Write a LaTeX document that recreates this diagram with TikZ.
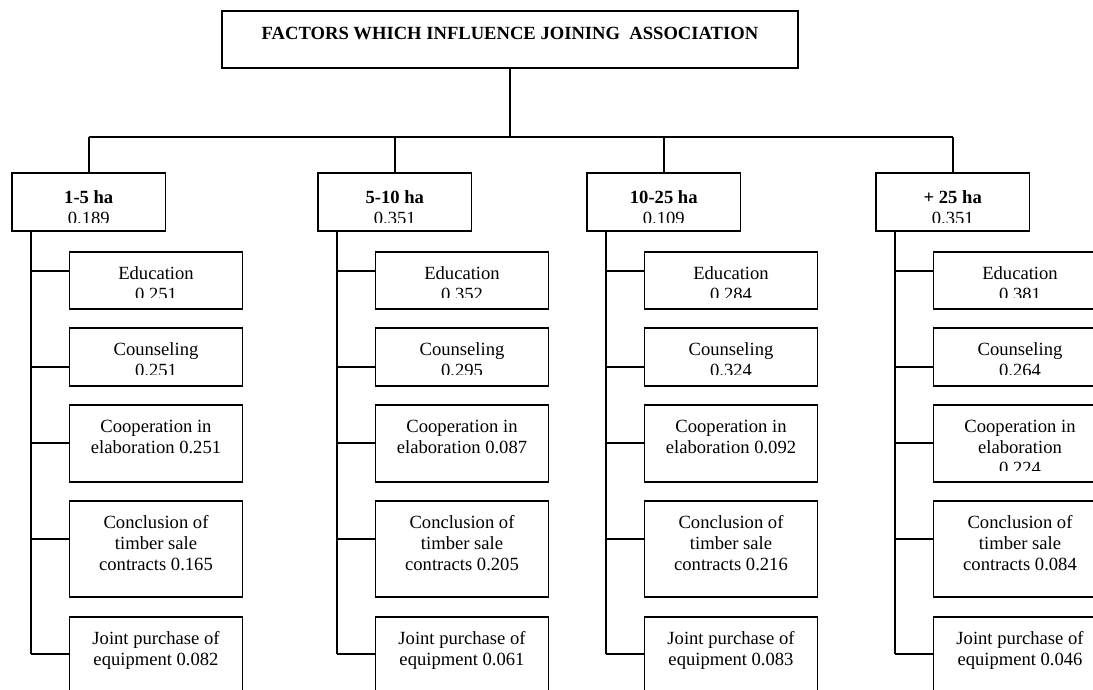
\documentclass[tikz,border=0pt]{standalone}
\usepackage{fontspec}
\setmainfont{Liberation Serif}
\usetikzlibrary{calc}

% first-line strut: the top of every label sits 15pt above its first baseline
\newcommand\firststrut{\rule{0pt}{15pt}}

% label of a box, clipped to the box interior above a bottom inset
% #1 box node, #2 bottom inset, #3 distance from box top to label top, #4 text
\newcommand\boxtext[4]{%
  \begin{scope}
    \clip ([yshift=#2pt]#1.south west) rectangle (#1.north east);
    \node[lbl] at ([yshift=-#3pt]#1.north) {\firststrut#4};
  \end{scope}}

% one factor box with its tap point on the left side
% #1 name, #2 left x, #3 top y, #4 height, #5 tap offset from top, #6 text
\newcommand\factorbox[6]{%
  \node[box, minimum width=173pt, minimum height=#4pt] (#1) at (#2,#3) {};
  \coordinate (#1-tap) at ([yshift=-#5pt]#1.north west);
  \boxtext{#1}{12}{12}{#6}}

% one farm-size branch with its five factors
% #1 id, #2 left x, #3 size class, #4 weight, #5..#9 factor entries
\newcommand\branch[9]{%
  \node[box, minimum width=153.5pt, minimum height=58pt] (c#1) at (#2,173) {};
  \boxtext{c#1}{9}{15}{\textbf{#3}\\#4}
  \draw[wire] (c#1.north) -- (c#1.north |- bus);
  \coordinate (s#1) at ([xshift=19pt]c#1.south west);
  \factorbox{c#1-1}{#2+57.5}{252}{57}{19}{Education\\#5}
  \factorbox{c#1-2}{#2+57.5}{328}{58}{39}{Counseling\\#6}
  \factorbox{c#1-3}{#2+57.5}{405}{77}{38}{Cooperation in\\#7}
  \factorbox{c#1-4}{#2+57.5}{501}{96}{38}{Conclusion of\\timber sale\\contracts #8}
  \factorbox{c#1-5}{#2+57.5}{617}{96}{37}{Joint purchase of\\equipment #9}
  \draw[wire] (s#1) -- (s#1 |- c#1-5-tap);
  \foreach \k in {1,...,5} {\draw[wire] (c#1-\k-tap) -- (c#1-\k-tap -| s#1);}
}

\tikzset{
  box/.style={draw, line width=1.8pt, inner sep=0pt, outer sep=0pt, anchor=north west},
  lbl/.style={anchor=north, align=center, inner sep=0pt,
              font=\fontsize{18.6}{21}\selectfont},
  wire/.style={line width=1.8pt},
}

\begin{document}
\begin{tikzpicture}[x=1pt, y=-1pt]
  \useasboundingbox (0,0) rectangle (1093,689);
  \clip (0,0) rectangle (1093,689);

  % root
  \node[box, minimum width=576pt, minimum height=57pt] (title) at (222,11) {};
  \boxtext{title}{0}{13}{\textbf{FACTORS WHICH INFLUENCE JOINING\ \ ASSOCIATION}}
  \coordinate (bus) at (title.south |- 0,137);
  \draw[wire] (title.south) -- (bus);

  % branches
  \branch{1}{12}{1-5 ha}{0.189}{0.251}{0.251}{elaboration 0.251}{0.165}{0.082}
  \branch{2}{318}{5-10 ha}{0.351}{0.352}{0.295}{elaboration 0.087}{0.205}{0.061}
  \branch{3}{587}{10-25 ha}{0.109}{0.284}{0.324}{elaboration 0.092}{0.216}{0.083}
  \branch{4}{876}{+ 25 ha}{0.351}{0.381}{0.264}{elaboration\\0.224}{0.084}{0.046}

  % horizontal bus joining the branches
  \draw[wire] (c1.north |- bus) -- (c4.north |- bus);
\end{tikzpicture}
\end{document}
